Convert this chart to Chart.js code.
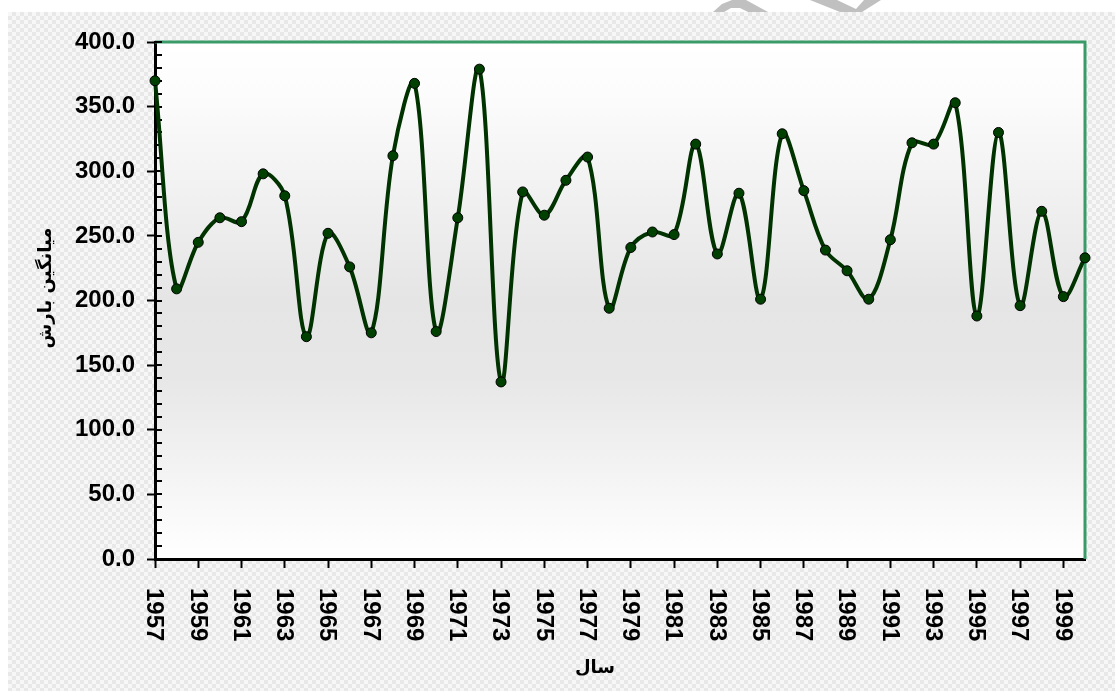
<!DOCTYPE html>
<html lang="fa">
<head>
<meta charset="utf-8">
<title>میانگین بارش</title>
<script src="https://cdn.jsdelivr.net/npm/chart.js@4.4.1/dist/chart.umd.min.js"></script>
<style>
  html, body { margin: 0; padding: 0; background: #fff; }
  #wrap { width: 1115px; height: 691px; }
</style>
</head>
<body>
<div id="wrap"><canvas id="mainChart" width="1115" height="691"></canvas></div>
<script>
// data
const years = ['1957', '1958', '1959', '1960', '1961', '1962', '1963', '1964', '1965', '1966',
    '1967', '1968', '1969', '1970', '1971', '1972', '1973', '1974', '1975', '1976',
    '1977', '1978', '1979', '1980', '1981', '1982', '1983', '1984', '1985', '1986',
    '1987', '1988', '1989', '1990', '1991', '1992', '1993', '1994', '1995', '1996',
    '1997', '1998', '1999', '2000'];
const rainfall = [370, 209, 245, 264, 261, 298, 281, 172, 252, 226,
    175, 312, 368, 176, 264, 379, 137, 284, 266, 293,
    311, 194, 241, 253, 251, 321, 236, 283, 201, 329,
    285, 239, 223, 201, 247, 322, 321, 353, 188, 330,
    196, 269, 203, 233];
const yMin = 0;
const yMax = 400;
const yStep = 50;
const yMinorStep = 10;
const yTitle = 'میانگین بارش';
const xTitle = 'سال';

const numFont = '"Liberation Sans", Arial, sans-serif';
const faFont = '"DejaVu Sans", sans-serif';

function makeChecker(ctx) {
    const c = document.createElement('canvas');
    c.width = 8;
    c.height = 8;
    const g = c.getContext('2d');
    g.fillStyle = '#f7f7f7';
    g.fillRect(0, 0, 8, 8);
    g.fillStyle = '#e8e8e8';
    g.fillRect(0, 0, 4, 4);
    g.fillRect(4, 4, 4, 4);
    return ctx.createPattern(c, 'repeat');
}

const chartDecor = {
    id: 'chartDecor',
    beforeDraw(chart) {
        const { ctx, chartArea: a, width, height } = chart;
        ctx.save();
        ctx.fillStyle = '#fff';
        ctx.fillRect(0, 0, width, height);
        ctx.fillStyle = makeChecker(ctx);
        ctx.fillRect(8, 12, width - 8, height - 12);

        // plot background
        const grad = ctx.createLinearGradient(0, a.top, 0, a.bottom);
        grad.addColorStop(0, '#ffffff');
        grad.addColorStop(0.1, '#fcfcfc');
        grad.addColorStop(0.5, '#e5e5e5');
        grad.addColorStop(0.65, '#e7e7e7');
        grad.addColorStop(1, '#ffffff');
        ctx.fillStyle = grad;
        ctx.fillRect(a.left, a.top, a.right - a.left, a.bottom - a.top);

        // bits of a watermark in the top strip
        ctx.fillStyle = '#c0c0c0';
        ctx.beginPath();
        ctx.moveTo(713, 12); ctx.lineTo(722, 4); ctx.lineTo(732, 0); ctx.lineTo(746, 0);
        ctx.lineTo(768, 12); ctx.lineTo(748, 12); ctx.lineTo(740, 8); ctx.lineTo(731, 8);
        ctx.lineTo(724, 12); ctx.closePath();
        ctx.fill();
        ctx.beginPath();
        ctx.moveTo(810, 0); ctx.lineTo(837, 0); ctx.lineTo(856, 9); ctx.lineTo(864, 0);
        ctx.lineTo(881, 0); ctx.lineTo(862, 12); ctx.lineTo(840, 12); ctx.closePath();
        ctx.fill();
        ctx.restore();
    },
    beforeDatasetsDraw(chart) {
        const { ctx, chartArea: a } = chart;
        const yScale = chart.scales.y;
        ctx.save();
        // green frame on top and right
        ctx.strokeStyle = '#3a9a68';
        ctx.lineWidth = 3;
        ctx.beginPath();
        ctx.moveTo(a.left, a.top);
        ctx.lineTo(a.right, a.top);
        ctx.lineTo(a.right, a.bottom);
        ctx.stroke();
        // minor ticks (and inner half of major ticks)
        ctx.strokeStyle = '#000';
        ctx.lineWidth = 2;
        ctx.beginPath();
        for (let v = yMin; v <= yMax; v += yMinorStep) {
            const y = Math.round(yScale.getPixelForValue(v));
            ctx.moveTo(a.left, y);
            ctx.lineTo(a.left + 7, y);
        }
        ctx.stroke();
        ctx.restore();
    },
    afterDraw(chart) {
        const { ctx, chartArea: a } = chart;
        const xScale = chart.scales.x;
        ctx.save();
        ctx.fillStyle = '#000';
        ctx.font = 'bold 24px ' + numFont;
        ctx.textAlign = 'left';
        ctx.textBaseline = 'middle';
        for (let i = 0; i < years.length; i += 2) {
            const x = xScale.getPixelForTick(i);
            ctx.save();
            ctx.translate(x, a.bottom + 29);
            ctx.rotate(Math.PI / 2);
            ctx.fillText(years[i], 0, 1);
            ctx.restore();
        }
        ctx.font = 'bold 18px ' + faFont;
        ctx.textAlign = 'center';
        ctx.fillText(xTitle, 595, 668);
        ctx.save();
        ctx.translate(46, 288);
        ctx.rotate(-Math.PI / 2);
        ctx.fillText(yTitle, 0, 0);
        ctx.restore();
        ctx.restore();
    }
};

const ctx = document.getElementById('mainChart').getContext('2d');

const chart = new Chart(ctx, {
    type: 'line',
    data: {
        labels: years,
        datasets: [{
            label: yTitle,
            data: rainfall,
            borderColor: '#003300',
            borderWidth: 4,
            tension: 0.35,
            fill: false,
            clip: false,
            pointRadius: 5,
            pointBackgroundColor: '#004000',
            pointBorderColor: '#000',
            pointBorderWidth: 1
        }]
    },
    options: {
        responsive: false,
        animation: false,
        layout: {
            padding: { top: 42, right: 30, left: 0, bottom: 0 }
        },
        plugins: {
            legend: { display: false },
            tooltip: { enabled: false }
        },
        scales: {
            x: {
                type: 'category',
                offset: false,
                ticks: { display: false, autoSkip: false },
                grid: {
                    drawOnChartArea: false,
                    tickLength: 9,
                    tickWidth: 2,
                    tickColor: (c) => (c.index % 2 === 0 ? '#000' : 'rgba(0,0,0,0)')
                },
                border: { display: true, color: '#000', width: 3 },
                afterFit(scale) {
                    scale.height = 132;
                }
            },
            y: {
                min: yMin,
                max: yMax,
                ticks: {
                    stepSize: yStep,
                    color: '#000',
                    padding: 12,
                    font: { family: numFont, size: 24, weight: 'bold' },
                    callback: (v) => Number(v).toFixed(1)
                },
                grid: {
                    drawOnChartArea: false,
                    tickLength: 8,
                    tickWidth: 2,
                    tickColor: '#000'
                },
                border: { display: true, color: '#000', width: 3 },
                afterFit(scale) {
                    scale.width = 155;
                }
            }
        }
    },
    plugins: [chartDecor]
});
</script>
</body>
</html>
